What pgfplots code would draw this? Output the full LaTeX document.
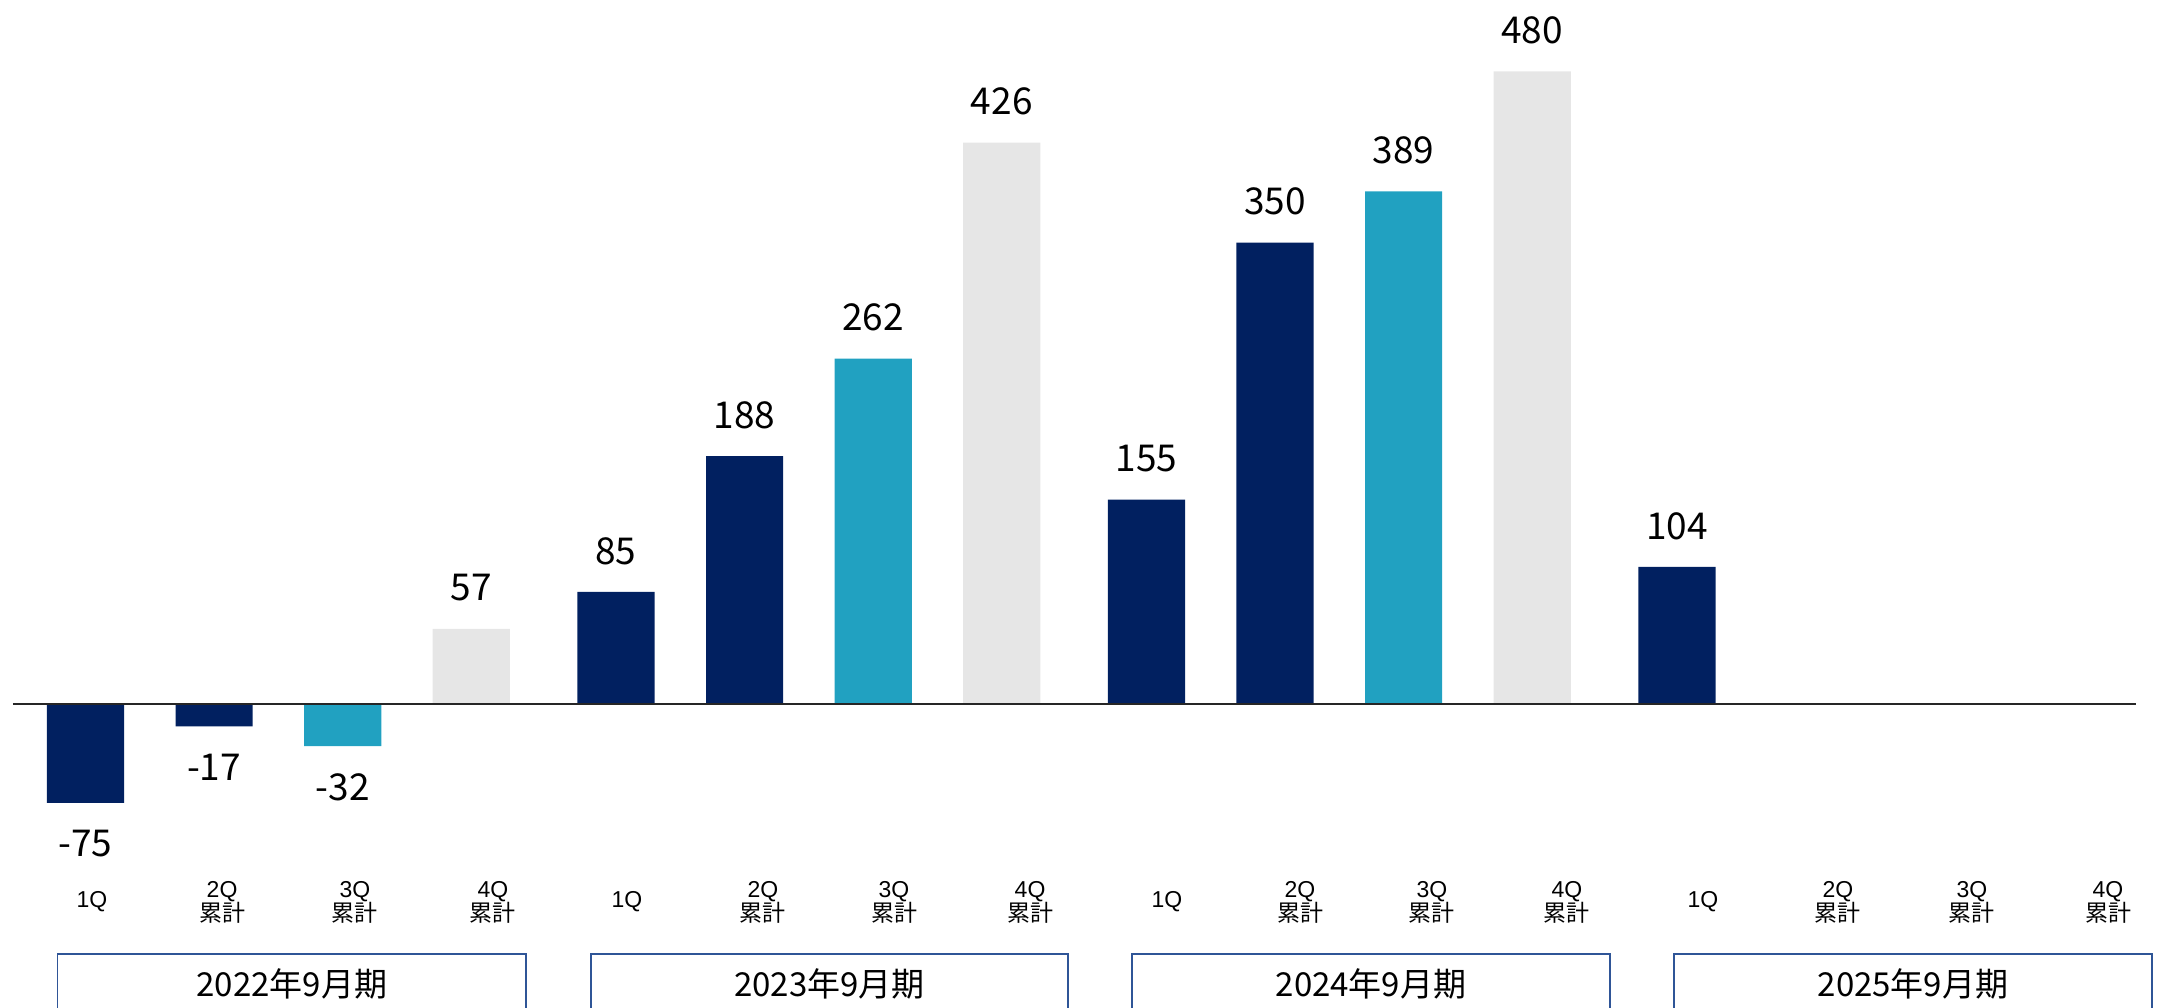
\documentclass[border=0pt]{standalone}
\usepackage{pgfplots}
\usepackage{pgfplotstable}
\pgfplotsset{compat=1.18}
\usepackage{fontspec}
\setmainfont{Liberation Sans}
\newfontfamily\cjk{Noto Sans CJK JP}
\definecolor{navy}{RGB}{1,32,96}
\definecolor{teal}{RGB}{33,161,193}
\definecolor{lgrey}{RGB}{230,230,230}
\definecolor{boxblue}{RGB}{47,85,151}

% x = group*4.125 + quarter
\pgfplotstableread{
x y
0 -75
1 -17
4.125 85
5.125 188
8.25 155
9.25 350
12.375 104
}\navydata
\pgfplotstableread{
x y
2 -32
6.125 262
10.25 389
}\tealdata
\pgfplotstableread{
x y
3 57
7.125 426
11.25 480
}\greydata

\tikzset{
  ql/.style={font=\fontsize{11.5}{12}\selectfont, inner sep=0pt},
  qc/.style={font=\fontsize{11.5}{12}\selectfont, align=center, inner sep=0pt},
  fy/.style={font=\cjk\fontsize{16.5}{18}\selectfont, inner sep=0pt},
  fybox/.style={boxblue, line width=0.75pt},
}
\newcommand{\cum}[1]{#1\\{\cjk 累計}}

\begin{document}
\begin{tikzpicture}
\begin{axis}[
  scale only axis,
  width=1078.5pt, height=504pt,
  xmin=-0.6649, xmax=16.1081,
  ymin=-230.65, ymax=534.14,
  hide axis,
  point meta=y,
  nodes near coords={\pgfmathfloattoint{\pgfplotspointmeta}\pgfmathresult},
  nodes near coords align=vertical,
  every node near coord/.append style={font=\cjk\fontsize{18.5}{22}\selectfont, text=black, inner xsep=0pt, inner ysep=13.5pt},
]
\addplot[ybar, bar width=0.6, bar shift=0pt, fill=navy, draw=none] table[x=x, y=y]{\navydata};
\addplot[ybar, bar width=0.6, bar shift=0pt, fill=teal, draw=none] table[x=x, y=y]{\tealdata};
\addplot[ybar, bar width=0.6, bar shift=0pt, fill=lgrey, draw=none] table[x=x, y=y]{\greydata};

\draw[black!85, line width=1pt] (axis cs:-0.564,0) -- (axis cs:15.944,0);

% quarter labels
\node[ql] at (axis cs:0.05,-150.2) {1Q};
\node[ql] at (axis cs:4.211,-150.2) {1Q};
\node[ql] at (axis cs:8.410,-150.2) {1Q};
\node[ql] at (axis cs:12.577,-150.2) {1Q};
\node[qc] at (axis cs:1.062,-150.5) {\cum{2Q}};
\node[qc] at (axis cs:2.095,-150.5) {\cum{3Q}};
\node[qc] at (axis cs:3.168,-150.5) {\cum{4Q}};
\node[qc] at (axis cs:5.268,-150.5) {\cum{2Q}};
\node[qc] at (axis cs:6.287,-150.5) {\cum{3Q}};
\node[qc] at (axis cs:7.345,-150.5) {\cum{4Q}};
\node[qc] at (axis cs:9.444,-150.5) {\cum{2Q}};
\node[qc] at (axis cs:10.470,-150.5) {\cum{3Q}};
\node[qc] at (axis cs:11.520,-150.5) {\cum{4Q}};
\node[qc] at (axis cs:13.627,-150.5) {\cum{2Q}};
\node[qc] at (axis cs:14.669,-150.5) {\cum{3Q}};
\node[qc] at (axis cs:15.727,-150.5) {\cum{4Q}};

% fiscal year boxes
\draw[fybox] (axis cs:-0.218,-189.7) rectangle (axis cs:3.425,-270);
\draw[fybox] (axis cs:3.931,-189.7) rectangle (axis cs:7.640,-270);
\draw[fybox] (axis cs:8.138,-189.7) rectangle (axis cs:11.854,-270);
\draw[fybox] (axis cs:12.352,-189.7) rectangle (axis cs:16.069,-270);
\node[fy] at (axis cs:1.6035,-212.4) {2022年9月期};
\node[fy] at (axis cs:5.7855,-212.4) {2023年9月期};
\node[fy] at (axis cs:9.996,-212.4) {2024年9月期};
\node[fy] at (axis cs:14.2105,-212.4) {2025年9月期};
\end{axis}
\pgfresetboundingbox
\path[use as bounding box] (current axis.south west) rectangle (current axis.north east);
\end{tikzpicture}
\end{document}
